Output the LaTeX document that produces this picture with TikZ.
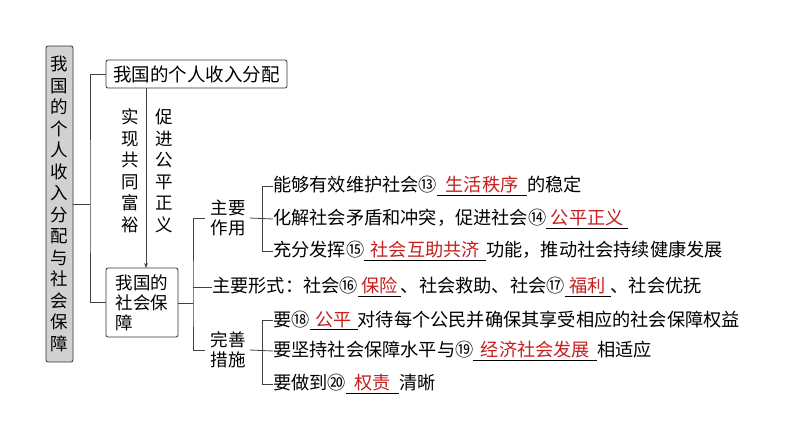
\documentclass[tikz,border=0pt]{standalone}
\usepackage{fontspec}
\setmainfont{Noto Sans CJK SC}
\usetikzlibrary{arrows.meta}
\definecolor{ans}{RGB}{200,30,30}
\newcommand{\blk}[2]{\underline{\makebox[#1pt][c]{\textcolor{ans}{#2}}}}
\tikzset{
 ln/.style={draw=black!75,line width=0.8pt},
 box/.style={draw=black!80,rounded corners=2pt,line width=0.8pt,inner sep=2pt},
 t/.style={font=\fontsize{18.2}{20}\selectfont,inner sep=0pt,anchor=west},
 vt/.style={font=\fontsize{17.5}{21.5}\selectfont,align=center,inner sep=0pt}
}
\begin{document}
\begin{tikzpicture}[x=1pt,y=-1pt]
\useasboundingbox[fill=white] (0,0) rectangle (794,447);
\node[box,fill=black!18,minimum width=27pt,minimum height=316pt,vt,inner sep=1pt] (L) at (59.5,204) {我\\国\\的\\个\\人\\收\\入\\分\\配\\与\\社\\会\\保\\障};
\node[box,minimum width=181pt,minimum height=28pt,font=\fontsize{18.5}{20}\selectfont] (A) at (196.5,74) {我国的个人收入分配};
\node[box,minimum width=72pt,minimum height=69pt,font=\fontsize{17.5}{20}\selectfont,align=left] (B) at (142,302.5) {我国的\\社会保\\障};
\coordinate (j1) at (90,204);
\draw[ln] (L.east|-j1) -- (j1);
\draw[ln] (A.west) -| (j1) |- (B.west);
\draw[ln,-{Stealth[length=5pt]}] (146,88) -- (146,268);
\node[vt] (v1) at (130,171) {实\\现\\共\\同\\富\\裕};
\node[vt] (v2) at (164,171) {促\\进\\公\\平\\正\\义};
% social security branches
\coordinate (j2) at (193,303);
\draw[ln] (B.east|-j2) -- (j2);
\node[vt,font=\fontsize{17.5}{20}\selectfont] (Z) at (228,218) {主要\\作用};
\node[vt,font=\fontsize{17.5}{20}\selectfont] (W) at (228,350) {完善\\措施};
\node[t] (F) at (212,287) {主要形式：社会⑯\blk{43}{保险}、社会救助、社会⑰\blk{46}{福利}、社会优抚};
\draw[ln] (205,218) -| (j2) |- (205,350);
\draw[ln] (j2|-F.west) -- (F.west);
% main roles
\node[t] (z1) at (273,186) {能够有效维护社会⑬\blk{90}{生活秩序}的稳定};
\node[t] (z2) at (273,219) {化解社会矛盾和冲突，促进社会⑭\blk{82}{公平正义}};
\node[t] (z3) at (273,251) {充分发挥⑮\blk{122}{社会互助共济}功能，推动社会持续健康发展};
\draw[ln] (Z.east) ++(4,0) -- (z2.west);
\draw[ln] (z1.west) -- (262,186) -- (262,251) -- (z3.west);
% measures
\node[t] (w1) at (273,320) {要⑱\blk{48}{公平}对待每个公民并确保其享受相应的社会保障权益};
\node[t] (w2) at (273,351) {要坚持社会保障水平与⑲\blk{124}{经济社会发展}相适应};
\node[t] (w3) at (273,384) {要做到⑳\blk{53}{权责}清晰};
\draw[ln] (W.east) ++(4,0) -- (w2.west);
\draw[ln] (w1.west) -- (262,320) -- (262,384) -- (w3.west);
\end{tikzpicture}
\end{document}
